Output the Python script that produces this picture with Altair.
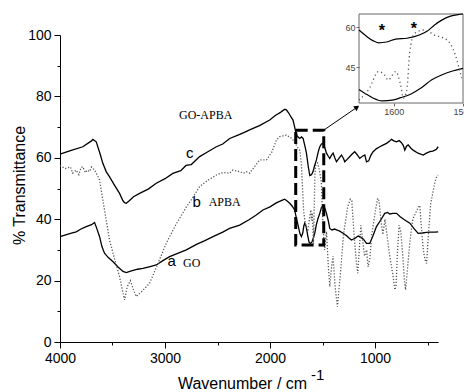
import altair as alt
import pandas as pd

# ---------------- main spectra (wavenumber, %T) ----------------
c_x = [4000, 3900, 3783, 3700, 3687, 3655, 3620, 3592, 3560, 3528, 3480, 3433, 3400, 3385, 3369, 3340, 3300, 3242,
       3160, 3083, 3000, 2925, 2850, 2800, 2750, 2670, 2600, 2511, 2450, 2384, 2305, 2250, 2194, 2100, 2003, 1950,
       1900, 1860, 1844, 1820, 1800, 1781, 1765, 1755, 1740, 1717, 1700, 1685, 1665, 1653, 1635, 1621, 1605, 1590,
       1575, 1558, 1540, 1526, 1510, 1495, 1480, 1462, 1445, 1431, 1415, 1399, 1383, 1367, 1340, 1319, 1300, 1288,
       1265, 1240, 1215, 1193, 1170, 1145, 1120, 1097, 1081, 1060, 1040, 1018, 985, 954, 920, 890, 860, 843, 820,
       795, 770, 748, 730, 716, 700, 684, 660, 637, 590, 541, 510, 478, 450, 430, 415, 398]
c_y = [61.2, 62.3, 63.6, 65.5, 66.0, 65.2, 61.5, 58.2, 55.5, 53.8, 51.0, 48.4, 46.0, 45.4, 45.2, 46.0, 47.3, 48.4,
       49.8, 51.7, 53.2, 54.9, 55.8, 57.5, 57.8, 60.4, 61.8, 63.6, 64.5, 66.3, 67.4, 68.2, 69.1, 70.5, 72.3, 73.8,
       74.8, 75.8, 75.6, 74.5, 73.3, 72.3, 70.0, 68.5, 67.0, 66.3, 66.8, 66.3, 63.5, 61.5, 57.0, 54.2, 54.5, 55.5,
       57.5, 59.3, 62.0, 63.6, 64.5, 64.7, 63.5, 61.5, 60.5, 59.8, 60.8, 61.5, 60.0, 58.7, 60.0, 60.9, 59.8, 58.7,
       59.5, 60.4, 61.3, 62.0, 61.0, 59.8, 60.5, 60.9, 58.7, 59.0, 60.8, 62.0, 63.0, 63.6, 64.2, 64.7, 65.5, 66.0, 65.5,
       65.2, 65.6, 64.9, 64.0, 62.5, 63.8, 64.2, 63.2, 62.5, 61.5, 60.9, 61.5, 62.0, 62.2, 62.5, 62.8, 63.6]

a_x = [4000, 3900, 3846, 3800, 3750, 3700, 3671, 3655, 3623, 3600, 3576, 3540, 3497, 3450, 3400, 3369, 3320, 3260,
       3211, 3150, 3083, 3020, 2956, 2880, 2797, 2700, 2620, 2543, 2450, 2385, 2289, 2200, 2134, 2067, 2000, 1940,
       1876, 1860, 1840, 1812, 1790, 1765, 1750, 1733, 1715, 1701, 1688, 1678, 1669, 1655, 1640, 1628, 1615, 1600,
       1588, 1574, 1560, 1545, 1526, 1510, 1495, 1480, 1462, 1445, 1431, 1410, 1385, 1367, 1340, 1304, 1270, 1245,
       1224, 1190, 1160, 1145, 1110, 1081, 1050, 1020, 986, 950, 907, 880, 859, 830, 795, 760, 720, 668, 630, 589,
       550, 509, 470, 430, 398]
a_y = [34.3, 35.4, 35.9, 36.8, 37.6, 38.2, 38.9, 37.5, 34.3, 31.0, 28.9, 27.5, 26.2, 24.5, 23.0, 22.6, 23.2, 23.7,
       24.0, 24.5, 25.1, 26.5, 27.8, 28.9, 30.0, 31.8, 33.0, 34.3, 35.8, 37.0, 38.1, 39.8, 41.3, 43.0, 44.0, 45.3,
       46.3, 46.5, 46.0, 45.2, 44.3, 43.0, 40.5, 38.1, 35.3, 34.3, 35.5, 37.8, 38.7, 37.5, 34.5, 32.5, 32.1, 32.6,
       33.8, 35.4, 38.0, 40.0, 41.9, 43.8, 44.6, 43.8, 41.9, 39.5, 37.0, 36.5, 36.8, 36.5, 36.2, 35.4, 34.6, 33.8,
       33.2, 33.8, 34.5, 34.3, 33.5, 32.1, 32.1, 34.5, 37.6, 39.5, 41.9, 42.2, 41.7, 41.9, 41.9, 40.8, 39.8, 38.7,
       37.0, 35.4, 35.5, 35.7, 35.8, 35.8, 35.9]

b_x = [4000, 3950, 3900, 3880, 3846, 3820, 3800, 3783, 3760, 3740, 3719, 3700, 3671, 3640, 3623, 3592, 3560, 3528,
       3480, 3433, 3400, 3385, 3360, 3330, 3300, 3274, 3220, 3147, 3080, 2988, 2900, 2797, 2750, 2670, 2600, 2511,
       2450, 2385, 2353, 2300, 2250, 2225, 2193, 2150, 2098, 2034, 1980, 1939, 1908, 1870, 1844, 1800, 1765, 1740,
       1717, 1701, 1690, 1680, 1670, 1655, 1640, 1625, 1611, 1604, 1597, 1590, 1586, 1579, 1572, 1564, 1547, 1529,
       1511, 1500, 1490, 1480, 1462, 1445, 1430, 1415, 1400, 1380, 1358, 1330, 1300, 1260, 1235, 1221, 1200, 1180,
       1164, 1150, 1135, 1120, 1100, 1080, 1066, 1050, 1030, 1000, 975, 961, 945, 925, 905, 890, 860, 830, 811, 800,
       785, 770, 755, 735, 720, 709, 695, 670, 640, 600, 585, 573, 560, 540, 525, 509, 495, 470, 450, 430, 413, 400]
b_y = [57.5, 56.5, 57.0, 55.0, 56.0, 54.5, 56.8, 57.1, 55.2, 56.0, 55.5, 57.0, 56.0, 54.0, 52.8, 46.3, 39.7, 33.2,
       27.0, 21.3, 16.0, 13.7, 18.0, 20.0, 17.0, 14.8, 16.5, 19.1, 24.5, 32.2, 38.0, 44.0, 46.3, 50.6, 52.5, 54.4,
       55.2, 55.0, 56.0, 55.6, 55.0, 55.5, 55.0, 57.0, 59.3, 59.3, 62.0, 65.8, 66.9, 67.2, 67.4, 66.5, 65.2, 63.5,
       62.5, 58.0, 50.0, 43.0, 40.0, 37.5, 36.0, 40.0, 43.0, 39.6, 42.0, 36.0, 32.0, 43.0, 54.6, 57.7, 58.3, 55.9,
       52.0, 42.0, 35.0, 30.0, 36.0, 25.0, 18.0, 24.0, 28.0, 18.0, 11.5, 22.0, 35.0, 44.0, 46.5, 46.0, 35.0, 27.0,
       22.4, 30.0, 38.0, 34.0, 28.0, 30.0, 24.5, 27.0, 35.0, 42.0, 46.8, 46.0, 40.0, 35.0, 40.0, 36.0, 28.0, 22.0,
       17.0, 18.0, 30.0, 38.0, 36.0, 28.0, 20.0, 17.0, 22.0, 32.0, 40.0, 43.0, 44.0, 44.5, 38.0, 30.0, 27.0, 25.6,
       33.0, 45.0, 48.4, 52.0, 53.8, 54.4]

# ---------------- inset (1650-1500 cm-1) ----------------
ic_x = [1650, 1640, 1630, 1622, 1610, 1597, 1581, 1563, 1552, 1541, 1530, 1518, 1507, 1500]
ic_y = [59.0, 56.8, 55.0, 54.2, 54.5, 55.6, 55.9, 57.1, 58.5, 60.9, 62.8, 64.2, 64.8, 65.0]
ia_x = [1650, 1640, 1630, 1617, 1600, 1590, 1575, 1560, 1545, 1530, 1515, 1500]
ia_y = [36.7, 35.0, 33.5, 32.4, 32.8, 33.6, 35.0, 37.3, 40.3, 42.2, 43.6, 44.6]
ib_x = [1650, 1635, 1622, 1613, 1608, 1597, 1590, 1586, 1581, 1577, 1570, 1556, 1541, 1523, 1511, 1505, 1502]
ib_y = [32.7, 37.1, 43.4, 42.1, 40.2, 43.4, 38.4, 33.4, 36.5, 50.2, 57.7, 59.0, 57.1, 55.2, 49.6, 44.0, 40.9]
star_x = [1617, 1571]
star_y = [59.9, 60.6]

# ---------------- annotations ----------------
box_x, box_x2, box_y, box_y2 = [1755], [1488], [69.0], [31.6]
arrow_x, arrow_x2, arrow_y, arrow_y2 = [1488], [1178], [69.0], [76.3]
serif_labels = ["GO-APBA", "APBA", "GO"]
serif_x = [2613, 2432, 2746]
serif_y = [73.9, 45.6, 25.7]
sans_labels = ["c", "b", "a"]
sans_x = [2765, 2699, 2937]
sans_y = [61.6, 45.6, 26.4]

x_ticks = [4000, 3500, 3000, 2500, 2000, 1500, 1000, 500]
y_ticks = [0, 10, 20, 30, 40, 50, 60, 70, 80, 90, 100]

SANS = "Liberation Sans"
SERIF = "Liberation Serif"

xs = alt.Scale(domain=[400, 4000], reverse=True, nice=False, zero=False)
ys = alt.Scale(domain=[0, 100], nice=False, zero=False)
x_axis = alt.Axis(values=x_ticks, format="d", labelFlush=False,
                  labelExpr="datum.value % 1000 === 0 ? datum.label : ''",
                  tickSize={"condition": {"test": "datum.value % 1000 === 0", "value": 6}, "value": 3},
                  grid=False, domainColor="black", tickColor="black", labelColor="black",
                  labelFont=SANS, labelFontSize=14, labelPadding=3,
                  title="Wavenumber / cm", titleFont=SANS, titleFontSize=16, titleFontWeight="normal",
                  titleColor="black", titleX=182, titleY=46, titleBaseline="alphabetic", titleAlign="center")
y_axis = alt.Axis(values=y_ticks, format="d", labelFlush=False,
                  labelExpr="datum.value % 20 === 0 ? datum.label : ''",
                  tickSize={"condition": {"test": "datum.value % 20 === 0", "value": 6}, "value": 3},
                  grid=False, domainColor="black", tickColor="black", labelColor="black",
                  labelFont=SANS, labelFontSize=14, labelPadding=3,
                  title="% Transmittance", titleFont=SANS, titleFontSize=16, titleFontWeight="normal",
                  titleColor="black", titleX=-41, titleY=150, titleBaseline="middle", titleAlign="center",
                  titleAngle=270)

X = alt.X("x:Q", scale=xs, axis=x_axis)
Y = alt.Y("y:Q", scale=ys, axis=y_axis)

def df(x, y, **kw):
    d = {"x": x, "y": y}
    d.update(kw)
    return pd.DataFrame(d)

line_a = alt.Chart(df(a_x, a_y)).mark_line(color="black", strokeWidth=1.3).encode(x=X, y=Y)
line_c = alt.Chart(df(c_x, c_y)).mark_line(color="black", strokeWidth=1.3).encode(x=X, y=Y)
line_b = alt.Chart(df(b_x, b_y)).mark_line(color="#555555", strokeWidth=1.3, strokeDash=[1.2, 1.8]).encode(x=X, y=Y)

box = alt.Chart(pd.DataFrame({"x": box_x, "x2": box_x2, "y": box_y, "y2": box_y2})).mark_rect(
    fill=None, fillOpacity=0, stroke="black", strokeWidth=3, strokeDash=[12, 5]
).encode(x=X, x2="x2:Q", y=Y, y2="y2:Q")

arrow = alt.Chart(pd.DataFrame({"x": arrow_x, "x2": arrow_x2, "y": arrow_y, "y2": arrow_y2})).mark_rule(
    color="black", strokeWidth=1).encode(x=X, x2="x2:Q", y=Y, y2="y2:Q")
head = alt.Chart(pd.DataFrame({"x": arrow_x2, "y": arrow_y2})).mark_point(
    shape="triangle", filled=True, color="black", size=35, angle=55, opacity=1).encode(x=X, y=Y)

serif_txt = alt.Chart(pd.DataFrame({"x": serif_x, "y": serif_y, "t": serif_labels})).mark_text(
    font=SERIF, fontSize=12, color="black", baseline="middle", align="center").encode(x=X, y=Y, text="t:N")
sans_txt = alt.Chart(pd.DataFrame({"x": sans_x, "y": sans_y, "t": sans_labels})).mark_text(
    font=SANS, fontSize=15, color="black", baseline="middle", align="center").encode(x=X, y=Y, text="t:N")

sup = alt.Chart(pd.DataFrame({"t": ["-1"]})).mark_text(
    font=SANS, fontSize=15, color="black", align="left", baseline="alphabetic").encode(
    x=alt.value(251), y=alt.value(345), text="t:N")

main = alt.layer(line_a, line_b, line_c, box, arrow, head, serif_txt, sans_txt, sup)

# inset layer with its own scales
ixs = alt.Scale(domain=[1500, 1650], reverse=True, range=[299, 403], nice=False, zero=False)
iys = alt.Scale(domain=[31.6, 65.0], range=[68, -21], nice=False, zero=False)
ix_axis = alt.Axis(values=[1600, 1500], format="d", orient="bottom", offset=-239, domain=False, grid=False,
                   labelFlush=False, tickSize=3, tickColor="#666666", labelColor="#444444", labelFont=SANS,
                   labelFontSize=9, labelPadding=1, title=None)
iy_axis = alt.Axis(values=[45, 60], format="d", orient="left", offset=-299, domain=False, grid=False,
                   labelFlush=False, tickSize=3, tickColor="#666666", labelColor="#444444", labelFont=SANS,
                   labelFontSize=9, labelPadding=1, title=None)
IX = alt.X("x:Q", scale=ixs, axis=ix_axis)
IY = alt.Y("y:Q", scale=iys, axis=iy_axis)

frame = alt.Chart(pd.DataFrame({"x": [1650], "x2": [1500], "y": [31.6], "y2": [65.0]})).mark_rect(
    fill=None, fillOpacity=0, stroke="#666666", strokeWidth=1).encode(x=IX, x2="x2:Q", y=IY, y2="y2:Q")
in_c = alt.Chart(df(ic_x, ic_y)).mark_line(color="black", strokeWidth=1.2, interpolate="monotone").encode(x=IX, y=IY)
in_a = alt.Chart(df(ia_x, ia_y)).mark_line(color="black", strokeWidth=1.2, interpolate="monotone").encode(x=IX, y=IY)
in_b = alt.Chart(df(ib_x, ib_y)).mark_line(color="#555555", strokeWidth=1.3, strokeDash=[1.2, 3],
                                            interpolate="monotone").encode(x=IX, y=IY)
stars = alt.Chart(pd.DataFrame({"x": star_x, "y": star_y, "t": ["*", "*"]})).mark_text(
    font=SANS, fontSize=16, fontWeight="bold", color="black", baseline="middle", dy=3).encode(x=IX, y=IY, text="t:N")

inset = alt.layer(frame, in_c, in_a, in_b, stars)

chart = alt.layer(main, inset).resolve_scale(x="independent", y="independent").properties(
    width=378, height=307, autosize=alt.AutoSizeParams(type="none"),
    padding={"left": 52, "top": 27, "right": 26, "bottom": 48}
).configure_view(stroke=None)

chart.save("out.html", embed_options={"renderer": "svg", "actions": False})
